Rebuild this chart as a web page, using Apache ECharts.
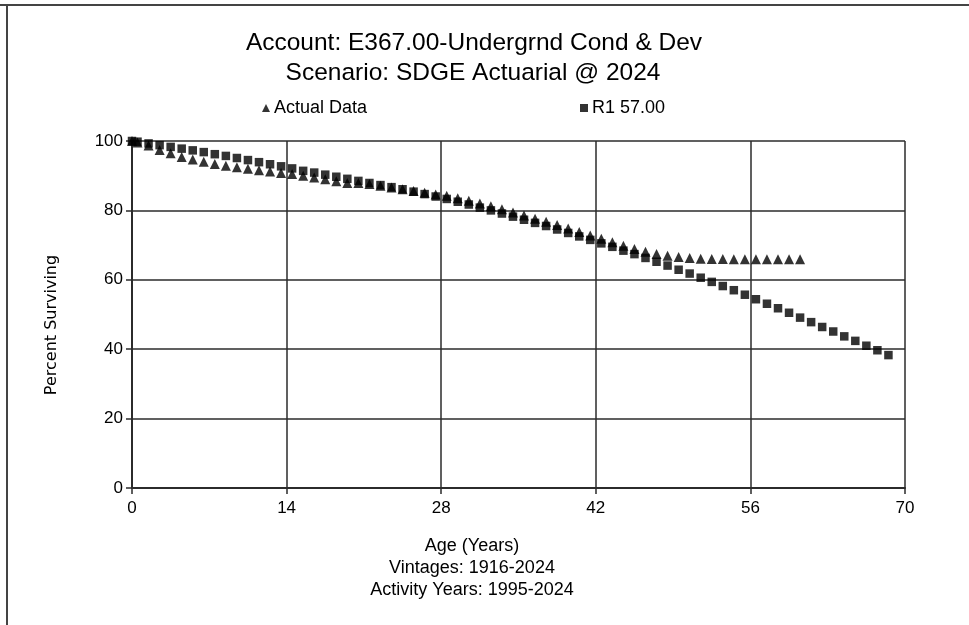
<!DOCTYPE html>
<html>
<head>
<meta charset="utf-8">
<script src="https://cdn.jsdelivr.net/npm/echarts@6/dist/echarts.min.js"></script>
<style>
  html, body { margin: 0; padding: 0; background: #fff; }
  #chart { width: 969px; height: 625px; }
</style>
</head>
<body>
<div id="chart"></div>
<script>
// Ages (years) at which survivorship is plotted
const ages = [0, 0.5, 1.5, 2.5, 3.5, 4.5, 5.5, 6.5, 7.5, 8.5, 9.5, 10.5, 11.5, 12.5, 13.5, 14.5,
  15.5, 16.5, 17.5, 18.5, 19.5, 20.5, 21.5, 22.5, 23.5, 24.5, 25.5, 26.5, 27.5, 28.5, 29.5,
  30.5, 31.5, 32.5, 33.5, 34.5, 35.5, 36.5, 37.5, 38.5, 39.5, 40.5, 41.5, 42.5, 43.5, 44.5,
  45.5, 46.5, 47.5, 48.5, 49.5, 50.5, 51.5, 52.5, 53.5, 54.5, 55.5, 56.5, 57.5, 58.5, 59.5,
  60.5, 61.5, 62.5, 63.5, 64.5, 65.5, 66.5, 67.5, 68.5];

// Observed percent surviving (ages 0 .. 60.5)
const actualData = [100, 99.6, 98.7, 97.4, 96.5, 95.4, 94.7, 94.0, 93.4, 92.9, 92.4, 92.0, 91.6, 91.2, 90.8, 90.5,
  90.0, 89.5, 89.0, 88.4, 87.9, 87.9, 87.6, 87.1, 86.6, 86.1, 85.6, 85.1, 84.6, 84.2, 83.5,
  82.8, 82.0, 81.2, 80.3, 79.4, 78.5, 77.6, 76.7, 75.8, 74.8, 73.8, 72.8, 71.8, 70.8, 69.8,
  68.9, 68.1, 67.4, 66.9, 66.6, 66.3, 66.1, 66.0, 66.0, 65.9, 65.9, 65.9, 65.9, 65.9, 65.9,
  65.9];

// Fitted Iowa R1 curve, 57.00-year average life (ages 0 .. 68.5)
const r1Data = [100, 99.8, 99.3, 98.8, 98.3, 97.8, 97.3, 96.8, 96.2, 95.7, 95.1, 94.5, 93.9, 93.3, 92.7, 92.1,
  91.4, 90.9, 90.3, 89.7, 89.1, 88.5, 87.9, 87.3, 86.7, 86.1, 85.4, 84.7, 84.0, 83.3, 82.5,
  81.7, 80.8, 80.0, 79.1, 78.2, 77.3, 76.4, 75.5, 74.5, 73.5, 72.5, 71.5, 70.5, 69.5, 68.4,
  67.4, 66.3, 65.2, 64.1, 62.9, 61.8, 60.6, 59.4, 58.2, 57.0, 55.7, 54.4, 53.1, 51.8, 50.5,
  49.1, 47.8, 46.4, 45.1, 43.7, 42.4, 41.0, 39.7, 38.3];

const titleLines = ['Account: E367.00-Undergrnd Cond & Dev', 'Scenario: SDGE Actuarial @ 2024'];
const footLines = ['Age (Years)', 'Vintages: 1916-2024', 'Activity Years: 1995-2024'];
const yAxisTitle = 'Percent Surviving';
const seriesNames = ['Actual Data', 'R1 57.00'];

const FONT = 'Liberation Sans, Arial, sans-serif';
const chart = echarts.init(document.getElementById('chart'), null, { renderer: 'canvas' });

function pairs(xs, ys) {
  return ys.map((v, i) => [xs[i], v]);
}

const lineColor = '#2b2b2b';

function centeredText(str, x, y, size, family) {
  return {
    type: 'text', x: x, y: y,
    style: { text: str, font: size + 'px ' + (family || FONT), fill: '#000', textAlign: 'center', textVerticalAlign: 'middle' }
  };
}

chart.setOption({
  animation: false,
  backgroundColor: '#fff',
  grid: { left: 132, right: 64, top: 141, bottom: 137, containLabel: false },
  legend: [
    {
      left: 257, top: 94, itemWidth: 8, itemHeight: 8, itemGap: 6,
      data: [{ name: seriesNames[0], icon: 'triangle' }],
      textStyle: { fontFamily: FONT, fontSize: 18, color: '#000', padding: [0, 0, 0, -1] }
    },
    {
      left: 575, top: 94, itemWidth: 8, itemHeight: 8, itemGap: 6,
      data: [{ name: seriesNames[1], icon: 'rect' }],
      textStyle: { fontFamily: FONT, fontSize: 18, color: '#000', padding: [0, 0, 0, -1] }
    }
  ],
  xAxis: {
    type: 'value', min: 0, max: 70, interval: 14,
    axisLine: { show: true, onZero: false, lineStyle: { color: lineColor, width: 2 } },
    axisTick: { show: true, length: 6, lineStyle: { color: lineColor, width: 1.5 } },
    splitLine: { show: true, lineStyle: { color: lineColor, width: 1.5 } },
    axisLabel: { fontFamily: FONT, fontSize: 17, color: '#000', margin: 12 }
  },
  yAxis: {
    type: 'value', min: 0, max: 100, interval: 20,
    axisLine: { show: true, onZero: false, lineStyle: { color: lineColor, width: 2 } },
    axisTick: { show: true, length: 6, lineStyle: { color: lineColor, width: 1.5 } },
    splitLine: { show: true, lineStyle: { color: lineColor, width: 1.5 } },
    axisLabel: { fontFamily: FONT, fontSize: 17, color: '#000', margin: 9 }
  },
  series: [
    {
      name: seriesNames[0], type: 'scatter', symbol: 'triangle', symbolSize: 10,
      itemStyle: { color: '#000' }, data: pairs(ages, actualData), z: 3
    },
    {
      name: seriesNames[1], type: 'scatter', symbol: 'rect', symbolSize: 8.5,
      itemStyle: { color: '#000' }, data: pairs(ages, r1Data), z: 4
    }
  ],
  graphic: [
    // frame edges
    { type: 'line', shape: { x1: 0, y1: 5, x2: 969, y2: 5 }, style: { stroke: '#444', lineWidth: 2 } },
    { type: 'line', shape: { x1: 7, y1: 5, x2: 7, y2: 625 }, style: { stroke: '#444', lineWidth: 2 } },
    // chart title
    centeredText(titleLines[0], 474, 43, 24.5),
    centeredText(titleLines[1], 473, 73, 24.5),
    // vertical axis caption
    {
      type: 'text', x: 52, y: 325, rotation: Math.PI / 2,
      style: { text: yAxisTitle, font: '16px DejaVu Sans, sans-serif', fill: '#000', textAlign: 'center', textVerticalAlign: 'middle' }
    },
    // horizontal axis caption and study notes
    centeredText(footLines[0], 472, 546, 18),
    centeredText(footLines[1], 472, 568, 18),
    centeredText(footLines[2], 472, 590, 18)
  ]
});
</script>
</body>
</html>
